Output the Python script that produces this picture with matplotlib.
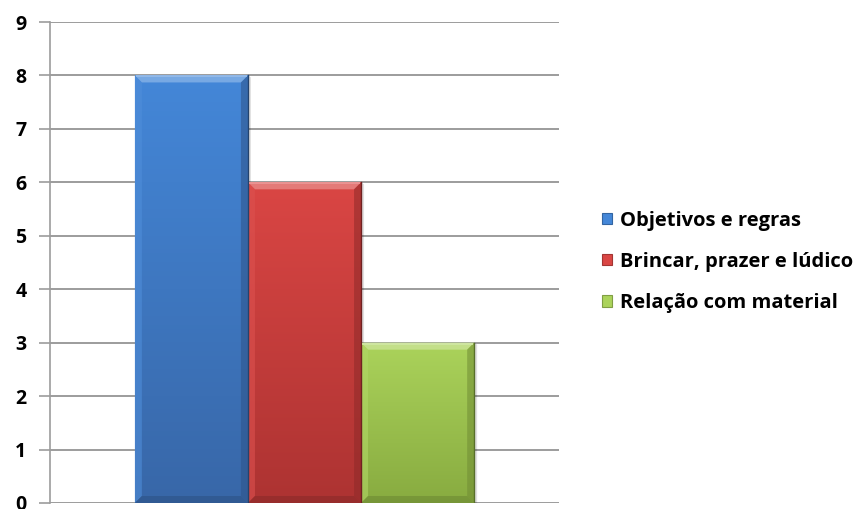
import matplotlib
matplotlib.use("Agg")
import matplotlib.pyplot as plt
import numpy as np
from matplotlib.patches import Polygon, Patch
from matplotlib.colors import to_rgb

plt.rcParams['font.family'] = ['Open Sans', 'DejaVu Sans']
plt.rcParams['font.weight'] = 'bold'

# series values
series = ['Objetivos e regras', 'Brincar, prazer e lúdico', 'Relação com material']
values = [8, 6, 3]
y_ticks = [0, 1, 2, 3, 4, 5, 6, 7, 8, 9]

# top / bottom gradient colours per series
top_colors = ['#4487d8', '#da4644', '#abd35b']
bottom_colors = ['#3867a8', '#ad3332', '#88ab40']

W, H, DPI = 855, 509, 100
fig = plt.figure(figsize=(W / DPI, H / DPI), dpi=DPI)
ax_l, ax_r, ax_b, ax_t = 50, 559, 503, 22
ax = fig.add_axes([ax_l / W, 1 - ax_b / H, (ax_r - ax_l) / W, (ax_b - ax_t) / H])

ax.set_xlim(-2.25, 2.25)
ax.set_ylim(0, 9)
ax.set_yticks(y_ticks)
ax.set_xticks([])
ax.yaxis.grid(True, color='#9c9c9c', linewidth=1.4)
ax.set_axisbelow(True)
for side in ['top', 'right', 'bottom']:
    ax.spines[side].set_visible(False)
ax.spines['left'].set_color('#9c9c9c')
ax.spines['left'].set_linewidth(1.2)
ax.tick_params(axis='y', direction='out', length=8, width=1.2, color='#9c9c9c',
               labelsize=14, pad=9)
for lbl in ax.get_yticklabels():
    lbl.set_fontweight('bold')

# pixel size in data units, for the bevel width
px_x = 4.5 / (ax_r - ax_l)
px_y = 9.0 / (ax_b - ax_t)
bev = 7

offsets = [-1, 0, 1]
bars = ax.bar(offsets, values, width=1.0, color='none', edgecolor='none', zorder=3)


def shade(c, f):
    c = np.array(to_rgb(c))
    if f >= 0:
        return tuple(c + (1 - c) * f)
    return tuple(c * (1 + f))


for bar, v, ct, cb in zip(bars, values, top_colors, bottom_colors):
    x0, w = bar.get_x(), bar.get_width()
    x1 = x0 + w
    # shadow on the right side
    ax.add_patch(Polygon([(x1, 0), (x1 + 3 * px_x, 0), (x1 + 3 * px_x, v - 2 * px_y), (x1, v)],
                         closed=True, color='#000000', alpha=0.12, lw=0, zorder=2))
    # vertical gradient body
    grad = np.linspace(0, 1, 256)[:, None]
    c_top, c_bot = np.array(to_rgb(ct)), np.array(to_rgb(cb))
    img = c_top[None, None, :] * (1 - grad[:, :, None]) + c_bot[None, None, :] * grad[:, :, None]
    im = ax.imshow(img, extent=[x0, x1, 0, v], aspect='auto', origin='upper', zorder=3,
                   interpolation='bilinear')
    im.set_clip_path(bar)

    bx, by = bev * px_x, bev * px_y
    # top bevel (light)
    ax.add_patch(Polygon([(x0, v), (x1, v), (x1 - bx, v - by), (x0 + bx, v - by)],
                         closed=True, color=shade(ct, 0.28), lw=0, zorder=4))
    # left bevel
    ax.add_patch(Polygon([(x0, v), (x0 + bx, v - by), (x0 + bx, by), (x0, 0)],
                         closed=True, color=shade(ct, 0.06), alpha=0.6, lw=0, zorder=4))
    # right bevel (dark)
    ax.add_patch(Polygon([(x1, v), (x1 - bx, v - by), (x1 - bx, by), (x1, 0)],
                         closed=True, color=shade(cb, -0.18), alpha=0.55, lw=0, zorder=4))
    # bottom bevel (dark)
    ax.add_patch(Polygon([(x0, 0), (x0 + bx, by), (x1 - bx, by), (x1, 0)],
                         closed=True, color=shade(cb, -0.2), alpha=0.6, lw=0, zorder=4))
    # thin highlight line along the top edge
    ax.plot([x0 + px_x, x1 - px_x], [v - px_y, v - px_y], color=shade(ct, 0.45),
            lw=1.2, zorder=5, solid_capstyle='butt')
    # thin dark outline on the right
    ax.plot([x1, x1], [0, v], color=shade(cb, -0.35), lw=1.0, zorder=5)

handles = [Patch(facecolor=c, edgecolor=shade(c, -0.25), linewidth=0.8) for c in top_colors]
leg = fig.legend(handles, series, loc='center left', bbox_to_anchor=(592 / W, 1 - 262 / H),
                 frameon=False, fontsize=14.5, handlelength=0.48, handleheight=0.48,
                 handletextpad=0.4, labelspacing=1.05, borderpad=0)
for t in leg.get_texts():
    t.set_fontweight('bold')

fig.savefig('out.png', dpi=DPI)
